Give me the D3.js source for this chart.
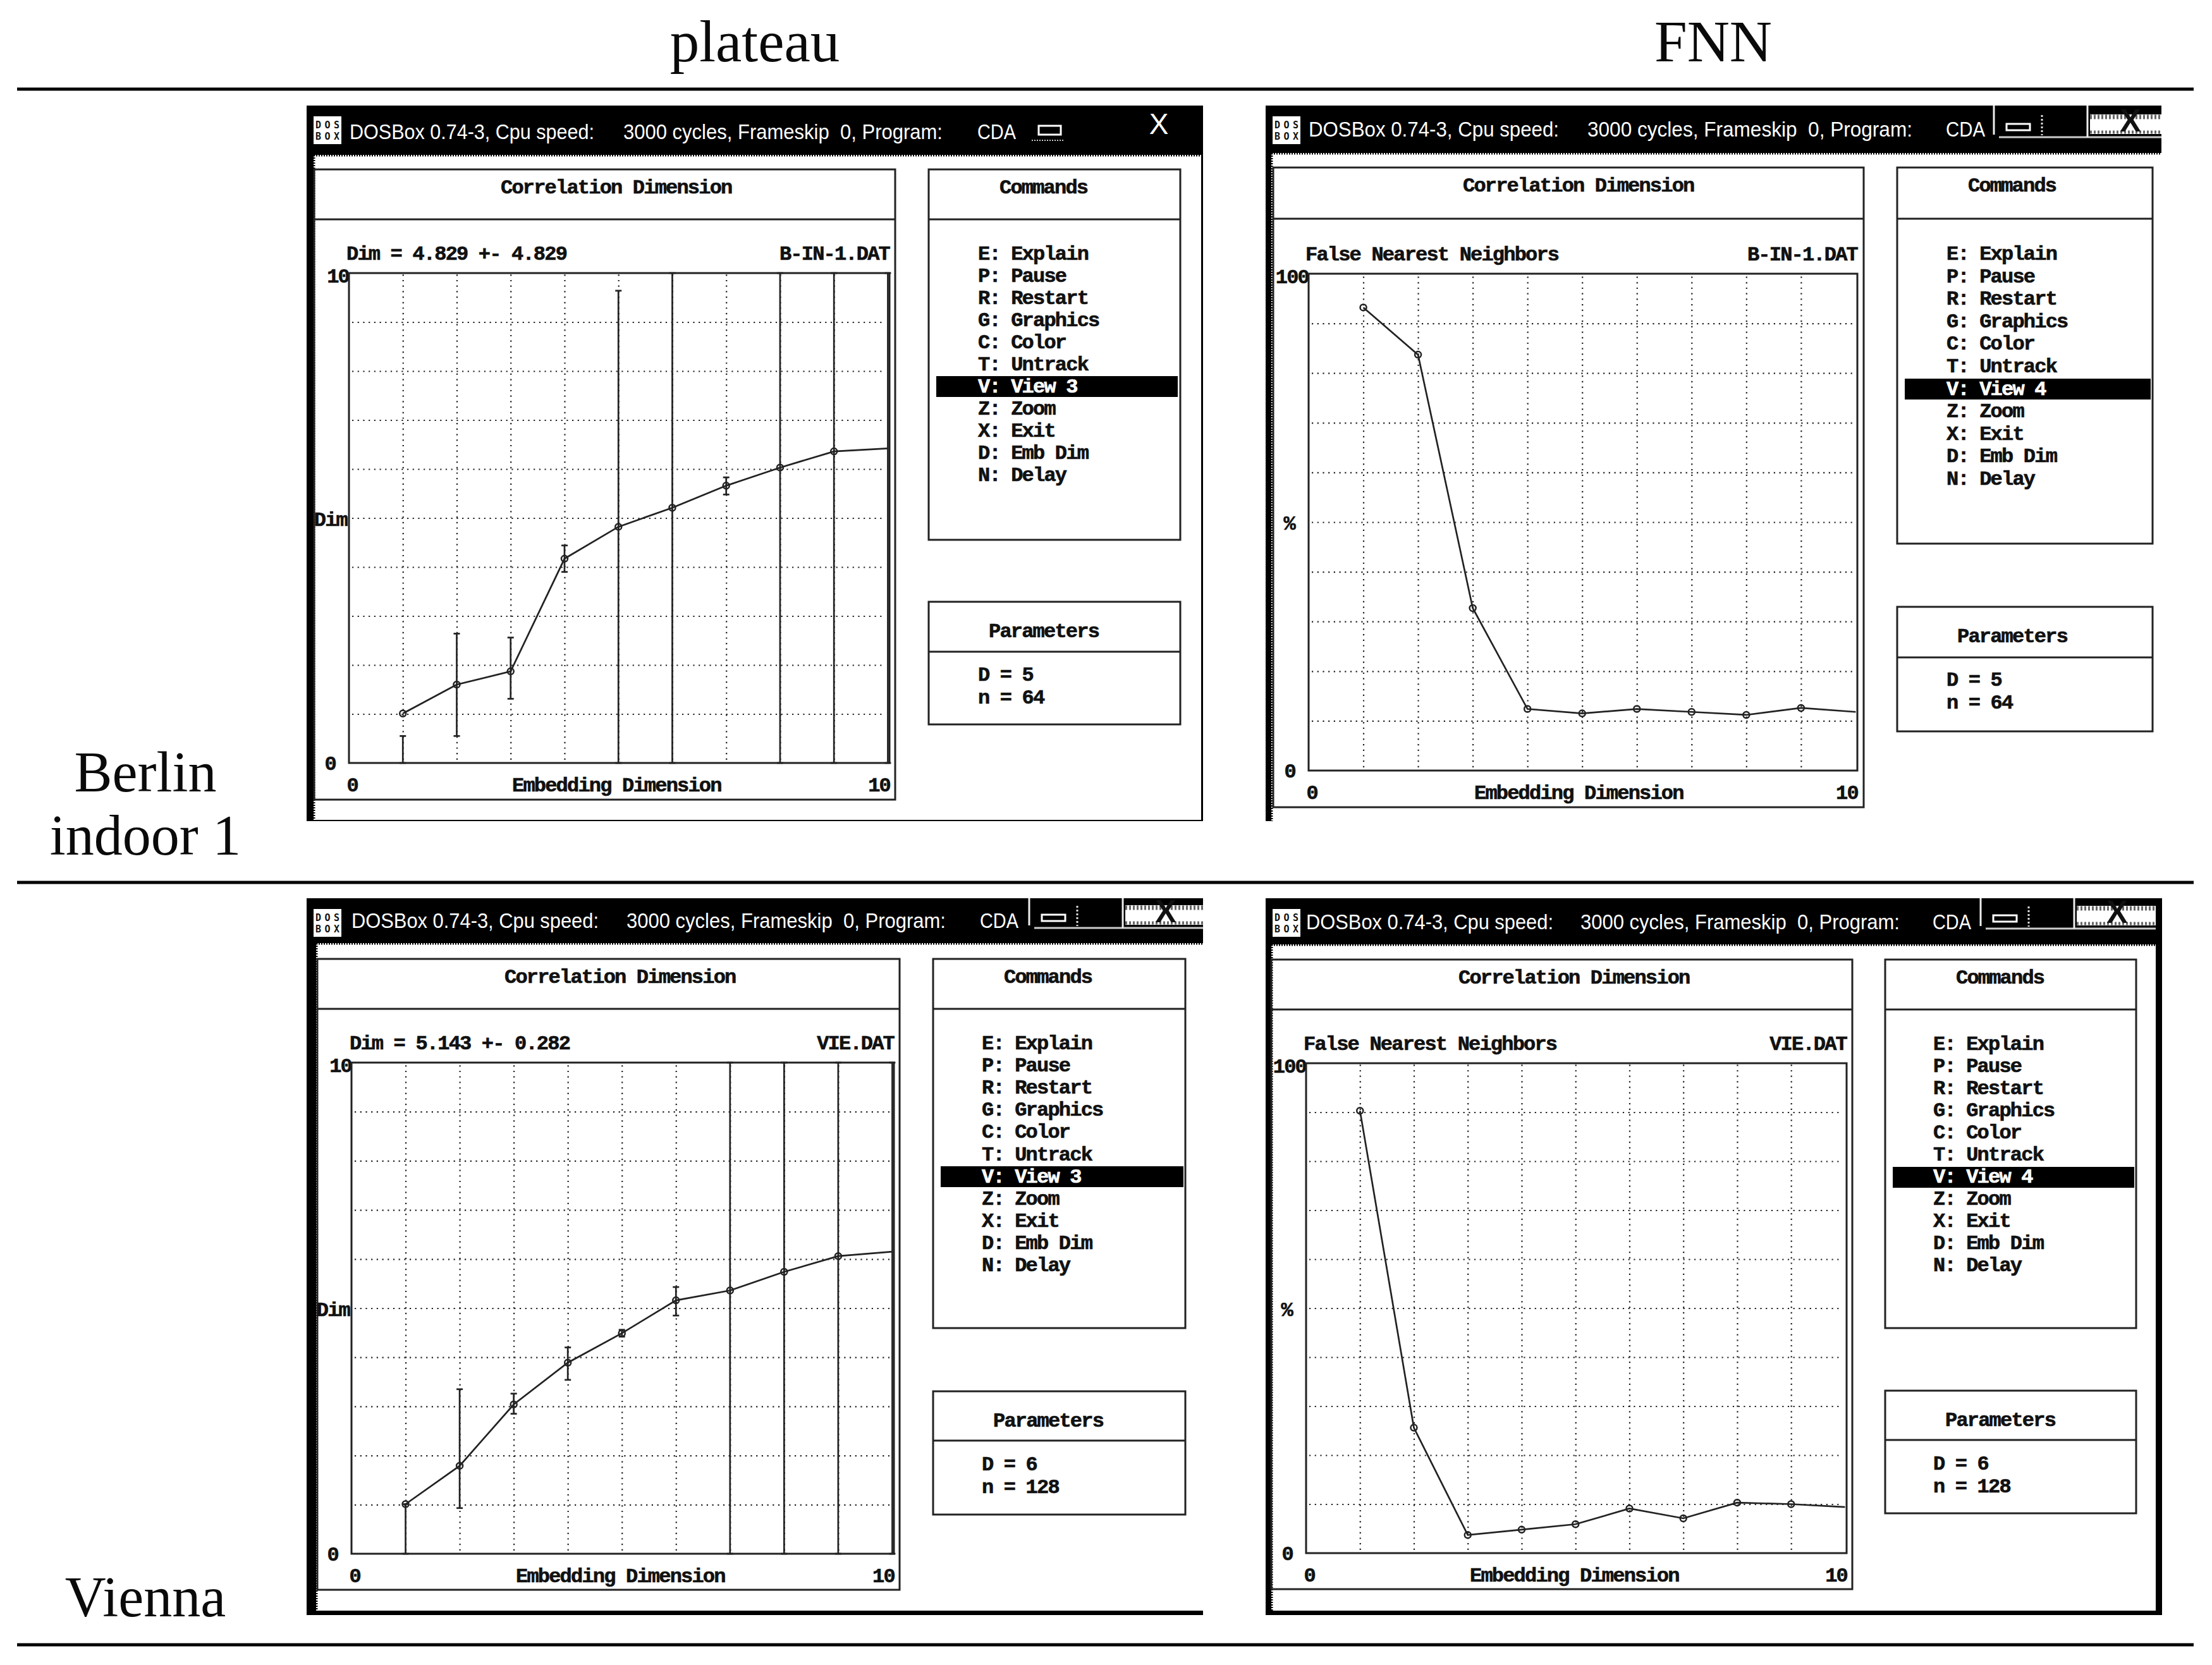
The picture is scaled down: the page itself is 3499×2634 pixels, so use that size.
<!DOCTYPE html>
<html lang="en">
  <head>
    <meta charset="utf-8">
    <title>plateau and FNN</title>
    <script src="https://d3js.org/d3.v7.min.js"></script>
    <style>
      html, body { margin: 0; padding: 0; background: #fff; }
      .mono { font-family: "Liberation Mono", monospace; font-weight: bold; font-size: 32px; letter-spacing: -1.8px; fill: #111; stroke: #111; stroke-width: 0.7px; }
      .serif { font-family: "Liberation Serif", serif; fill: #0a0a0a; }
      .bar { font-family: "Liberation Sans", sans-serif; font-size: 33.5px; fill: #fff; }
      .icon { font-family: "DejaVu Sans Mono", monospace; font-weight: bold; font-size: 15px; fill: #111; }
    </style>
  </head>
  <body>
    <svg id="chart" width="3499" height="2634"></svg>
    <script type="text/javascript">

    // values
    var columnTitles = ["plateau", "FNN"];
    var rowTitles = [["Berlin", "indoor 1"], ["Vienna"]];
    var embeddingDims = [1, 2, 3, 4, 5, 6, 7, 8, 9, 10];

    var berlinDim = [1.01, 1.6, 1.87, 4.17, 4.82, 5.21, 5.66, 6.03, 6.36, 6.42];
    var berlinDimLow = [0, 0.55, 1.31, 3.9, 0, 0, 5.48, 0, 0, 0];
    var berlinDimHigh = [0.55, 2.64, 2.56, 4.44, 9.64, 10, 5.83, 10, 10, 10];
    var berlinFnn = [93.2, 83.7, 32.7, 12.4, 11.5, 12.4, 11.8, 11.2, 12.6, 11.8];

    var viennaDim = [1.01, 1.79, 3.04, 3.89, 4.49, 5.16, 5.36, 5.74, 6.06, 6.15];
    var viennaDimLow = [0, 0.93, 2.85, 3.54, 4.42, 4.85, 0, 0, 0, 0];
    var viennaDimHigh = [1.01, 3.35, 3.26, 4.2, 4.56, 5.43, 10, 10, 10, 10];
    var viennaFnn = [90.3, 25.6, 3.7, 4.8, 5.9, 9.1, 7.1, 10.3, 10, 9.4];

    var commandRows = ["E: Explain", "P: Pause", "R: Restart", "G: Graphics", "C: Color", "T: Untrack", "V: View", "Z: Zoom", "X: Exit", "D: Emb Dim", "N: Delay"];

    // screen layout of the four DOSBox windows
    var windows = [
      { outer: [485, 1903, 167, 1299], inner: [496, 1900, 245, 1297], panel: [497, 1416, 268, 347, 1265], plot: [552, 1407, 432, 1207],
        cmd: [1469, 1867, 268, 347, 854], par: [952, 1031, 1146], hi: [1481, 1863, 595], rows: [1547, 411, 35], barY: 220,
        bar: [[553, 387], [986, 505], [1546, 61]], btn: null, corrX: 295, headX: -4, embX: 258,
        values: berlinDim, low: berlinDimLow, high: berlinDimHigh, yMax: 10, yLabel: "Dim", yLabelEnd: -3,
        head: "Dim = 4.829 +- 4.829", file: "B-IN-1.DAT", view: 3, D: 5, n: 64 },
      { outer: [2002, 3419, 167, 1299], inner: [2011, 3419, 242, 1299], panel: [2014, 2948, 265, 346, 1277], plot: [2070, 2938, 433, 1219],
        cmd: [3001, 3405, 265, 346, 860], par: [960, 1040, 1157], hi: [3013, 3402, 599], rows: [3079, 411, 35.6], barY: 216,
        bar: [[2070, 396], [2511, 514], [3078, 62]], btn: [3154, 167, 217, 3419], corrX: 300, headX: -5, embX: 262,
        values: berlinFnn, yMax: 100, yLabel: "%", yLabelEnd: -22,
        head: "False Nearest Neighbors", file: "B-IN-1.DAT", view: 4, D: 5, n: 64 },
      { outer: [485, 1903, 1421, 2555], inner: [500, 1903, 1492, 2548], panel: [502, 1423, 1517, 1596, 2515], plot: [556, 1414, 1681, 2458],
        cmd: [1476, 1875, 1517, 1596, 2101], par: [2201, 2279, 2396], hi: [1488, 1872, 1845], rows: [1553, 1660, 35.1], barY: 1468,
        bar: [[556, 391], [991, 505], [1550, 61]], btn: [1628, 1421, 1468, 1903], corrX: 296, headX: -3, embX: 260,
        values: viennaDim, low: viennaDimLow, high: viennaDimHigh, yMax: 10, yLabel: "Dim", yLabelEnd: -3,
        head: "Dim = 5.143 +- 0.282", file: "VIE.DAT", view: 3, D: 6, n: 128 },
      { outer: [2002, 3420, 1421, 2555], inner: [2011, 3410, 1494, 2548], panel: [2011, 2930, 1518, 1597, 2514], plot: [2066, 2921, 1682, 2457],
        cmd: [2982, 3379, 1518, 1597, 2101], par: [2200, 2278, 2394], hi: [2994, 3376, 1846], rows: [3058, 1661, 35], barY: 1470,
        bar: [[2066, 391], [2500, 505], [3057, 61]], btn: [3133, 1421, 1469, 3410], corrX: 296, headX: -4, embX: 259,
        values: viennaFnn, yMax: 100, yLabel: "%", yLabelEnd: -22,
        head: "False Nearest Neighbors", file: "VIE.DAT", view: 4, D: 6, n: 128 }
    ];

    var svg = d3.select("#chart");
    svg.append("rect").attr("width", 3499).attr("height", 2634).attr("fill", "#fff");

    // table heading and rules
    [141, 1396, 2602].forEach(function(y)
    {
      svg.append("line").attr("x1", 27).attr("x2", 3470).attr("y1", y).attr("y2", y)
        .attr("stroke", "#000").attr("stroke-width", 5);
    });
    svg.selectAll("text.col").data(columnTitles).enter().append("text")
      .attr("class", "serif col")
      .attr("text-anchor", "middle")
      .attr("font-size", 93)
      .attr("x", function(d, i) { return [1194, 2710][i]; })
      .attr("y", 97)
      .text(function(d) { return d; });
    var rowY = [[1252, 1352], [2557]];
    rowTitles.forEach(function(lines, r)
    {
      lines.forEach(function(t, i)
      {
        svg.append("text").attr("class", "serif").attr("text-anchor", "middle").attr("font-size", 90)
          .attr("x", 230).attr("y", rowY[r][i]).text(t);
      });
    });

    var box = function(g, x1, x2, y1, y2)
    {
      return g.append("rect").attr("x", x1).attr("y", y1).attr("width", x2 - x1).attr("height", y2 - y1)
        .attr("fill", "none").attr("stroke", "#222").attr("stroke-width", 3);
    };
    var label = function(g, x, y, t, anchor)
    {
      return g.append("text").attr("class", "mono").attr("x", x).attr("y", y)
        .attr("text-anchor", anchor || "start").text(t);
    };
    var seg = function(g, x1, y1, x2, y2, col, w, dash)
    {
      return g.append("line").attr("x1", x1).attr("y1", y1).attr("x2", x2).attr("y2", y2)
        .attr("stroke", col).attr("stroke-width", w).attr("stroke-dasharray", dash || null);
    };

    var drawTitleBar = function(g, w)
    {
      var o = w.outer, n = w.inner;
      g.append("rect").attr("x", o[0]).attr("y", o[2]).attr("width", o[1] - o[0]).attr("height", o[3] - o[2]).attr("fill", "#000");
      g.append("rect").attr("x", n[0]).attr("y", n[2]).attr("width", n[1] - n[0]).attr("height", n[3] - n[2]).attr("fill", "#fff");
      seg(g, n[0], n[2] + 1, n[1], n[2] + 1, "#000", 3, "2 2");
      seg(g, n[0] + 1, n[2], n[0] + 1, n[3], "#000", 3, "2 2");

      // window icon
      var iy = o[2] + 17, ix = o[0] + 11;
      g.append("rect").attr("x", ix).attr("y", iy).attr("width", 44).attr("height", 44).attr("fill", "#fff");
      g.append("text").attr("class", "icon").attr("x", ix + 22).attr("y", iy + 19).attr("text-anchor", "middle").attr("textLength", 38).text("DOS");
      g.append("text").attr("class", "icon").attr("x", ix + 22).attr("y", iy + 37).attr("text-anchor", "middle").attr("textLength", 38).text("BOX");

      var parts = ["DOSBox 0.74-3, Cpu speed:", "3000 cycles, Frameskip  0, Program:", "CDA"];
      var title = g.append("text").attr("class", "bar").attr("y", w.barY).style("white-space", "pre");
      parts.forEach(function(p, i)
      {
        title.append("tspan").attr("x", w.bar[i][0]).attr("textLength", w.bar[i][1])
          .attr("lengthAdjust", "spacingAndGlyphs").text(p);
      });

      if (w.btn)
      {
        var bx = w.btn[0], by0 = w.btn[1], by1 = w.btn[2], right = w.btn[3];
        seg(g, bx, by0, bx, by1 - 4, "#eee", 3);
        seg(g, bx + 8, by1, right, by1, "#ccc", 3);
        g.append("rect").attr("x", bx + 20).attr("y", by1 - 21).attr("width", 37).attr("height", 10)
          .attr("fill", "none").attr("stroke", "#fff").attr("stroke-width", 3);
        seg(g, bx + 76, by1 - 35, bx + 76, by1 - 3, "#ddd", 3, "3 3");
        seg(g, bx + 148, by0, bx + 148, by1, "#eee", 3);
        g.append("rect").attr("x", bx + 152).attr("y", by1 - 36).attr("width", right - bx - 152).attr("height", 31).attr("fill", "#fff");
        seg(g, bx + 152, by1 - 32, right, by1 - 32, "#666", 7, "3 3");
        seg(g, bx + 152, by1 - 8, right, by1 - 8, "#666", 5, "3 3");
        g.append("text").attr("class", "bar").attr("text-anchor", "middle").attr("x", bx + 216).attr("y", by1 - 9)
          .style("fill", "#111").style("font-size", "50px").style("font-weight", "bold").text("X");
      }
      else
      {
        g.append("rect").attr("x", 1643).attr("y", 199).attr("width", 35).attr("height", 14)
          .attr("fill", "none").attr("stroke", "#fff").attr("stroke-width", 3);
        seg(g, 1632, 222, 1682, 222, "#ccc", 2, "2 2");
        g.append("text").attr("class", "bar").attr("text-anchor", "middle").attr("x", 1833).attr("y", 212)
          .style("font-size", "46px").text("X");
      }
    };

    var drawCommands = function(g, w)
    {
      var c = w.cmd, p = w.par, r = w.rows;
      box(g, c[0], c[1], c[2], c[4]);
      seg(g, c[0], c[3], c[1], c[3], "#222", 3);
      label(g, c[0] + 112, c[2] + 38, "Commands");
      g.append("rect").attr("x", w.hi[0]).attr("y", w.hi[2]).attr("width", w.hi[1] - w.hi[0]).attr("height", 33).attr("fill", "#000");
      commandRows.forEach(function(t, i)
      {
        var row = label(g, r[0], r[1] + i * r[2], i === 6 ? t + " " + w.view : t);
        if (i === 6) row.style("fill", "#fff").style("stroke", "#fff");
      });

      box(g, c[0], c[1], p[0], p[2]);
      seg(g, c[0], p[1], c[1], p[1], "#222", 3);
      label(g, c[0] + 95, p[0] + 56, "Parameters");
      label(g, r[0], p[0] + 125, "D = " + w.D);
      label(g, r[0], p[0] + 161, "n = " + w.n);
    };

    var drawPlot = function(g, w)
    {
      var pn = w.panel, p = w.plot;
      box(g, pn[0], pn[1], pn[2], pn[4]);
      seg(g, pn[0], pn[3], pn[1], pn[3], "#222", 3);
      label(g, pn[0] + w.corrX, pn[2] + 38, "Correlation Dimension");
      label(g, p[0] + w.headX, p[2] - 21, w.head);
      label(g, p[1], p[2] - 21, w.file, "end");
      label(g, p[0] + w.embX, p[3] + 45, "Embedding Dimension");
      label(g, p[0] + w.yLabelEnd, (p[2] + p[3]) / 2 + 12, w.yLabel, "end");

      var xScale = d3.scaleLinear().domain([0, 10.03]).range([p[0], p[1]]);
      var yScale = d3.scaleLinear().domain([0, w.yMax]).range([p[3], p[2]]);

      // dotted grid
      var xGrid = d3.axisBottom(xScale).tickValues(d3.range(1, 10)).tickSize(p[2] - p[3] + 5).tickFormat("");
      var yGrid = d3.axisLeft(yScale).tickValues(d3.range(1, 10).map(function(d) { return d * w.yMax / 10; }))
        .tickSize(-(p[1] - p[0] - 12)).tickFormat("");
      var gx = g.append("g").attr("transform", "translate(0," + (p[3] - 5) + ")").call(xGrid);
      var gy = g.append("g").attr("transform", "translate(" + (p[0] + 5) + ",0)").call(yGrid);
      [gx, gy].forEach(function(a)
      {
        a.select(".domain").remove();
        a.selectAll("line").attr("stroke", "#222").attr("stroke-width", 2.2).attr("stroke-dasharray", "2.2 6.5");
      });

      // tick labels from the axes
      var xAxis = d3.axisBottom(xScale).tickValues([0, 10]).tickSize(0);
      var yAxis = d3.axisLeft(yScale).tickValues([0, w.yMax]).tickSize(0);
      var ax = g.append("g").attr("transform", "translate(0," + (p[3] + 45) + ")").call(xAxis);
      var ay = g.append("g").attr("transform", "translate(" + p[0] + ",0)").call(yAxis);
      [ax, ay].forEach(function(a)
      {
        a.select(".domain").remove();
        a.attr("font-size", null).attr("font-family", null);
        a.selectAll("text").attr("class", "mono").attr("y", null).attr("dy", null);
      });
      ax.selectAll("text").attr("text-anchor", function(d) { return d === 0 ? "start" : "end"; })
        .attr("dx", function(d) { return d === 0 ? -4 : 3; });
      ay.selectAll("text").attr("text-anchor", "end")
        .attr("x", function(d) { return d === 0 ? -21 : 0; })
        .attr("dy", function(d) { return d === 0 ? 10 : 14; });

      box(g, p[0], p[1], p[2], p[3]);

      // error bars
      if (w.low)
      {
        var bars = g.append("g");
        embeddingDims.forEach(function(d, i)
        {
          var x = xScale(d), y1 = yScale(w.low[i]), y2 = yScale(w.high[i]);
          seg(bars, x, y1, x, y2, "#222", 2.7);
          seg(bars, x - 5, y1, x + 5, y1, "#222", 2.7);
          seg(bars, x - 5, y2, x + 5, y2, "#222", 2.7);
        });
      }

      var line = d3.line()
        .x(function(d, i) { return xScale(embeddingDims[i]); })
        .y(function(d) { return yScale(d); });
      g.append("path").attr("d", line(w.values)).attr("fill", "none").attr("stroke", "#222").attr("stroke-width", 2.7);

      g.selectAll("circle.pt").data(w.values.slice(0, 9)).enter().append("circle")
        .attr("class", "pt")
        .attr("cx", function(d, i) { return xScale(embeddingDims[i]); })
        .attr("cy", function(d) { return yScale(d); })
        .attr("r", 5)
        .attr("fill", "none")
        .attr("stroke", "#222")
        .attr("stroke-width", 2.5);
    };

    windows.forEach(function(w)
    {
      var g = svg.append("g");
      drawTitleBar(g, w);
      drawPlot(g, w);
      drawCommands(g, w);
    });

    </script>
  </body>
</html>
